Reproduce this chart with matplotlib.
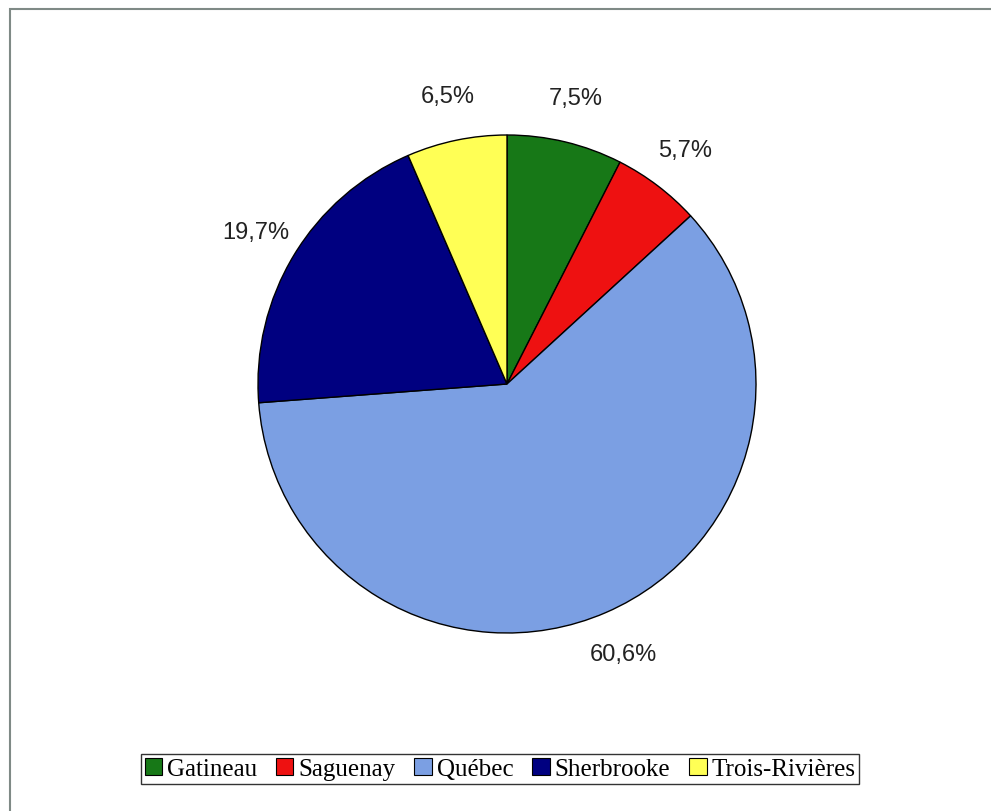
import numpy as np
import matplotlib
matplotlib.use("Agg")
import matplotlib.pyplot as plt
from matplotlib.patches import Rectangle, Patch

categories = ["Gatineau", "Saguenay", "Québec", "Sherbrooke", "Trois-Rivières"]
values = [7.5, 5.7, 60.6, 19.7, 6.5]
colors = ["#177817", "#EE1111", "#7B9FE3", "#000080", "#FFFF55"]
pct_labels = ["7,5%", "5,7%", "60,6%", "19,7%", "6,5%"]

W, H = 991, 812
fig = plt.figure(figsize=(W / 100, H / 100), dpi=100)
fig.patch.set_facecolor("white")

cx, cy, r = 507, 385, 249
ax = fig.add_axes([(cx - r) / W, (H - cy - r) / H, 2 * r / W, 2 * r / H])
wedges, _ = ax.pie(values, colors=colors, startangle=90, counterclock=False,
                   radius=1.0,
                   wedgeprops=dict(edgecolor="black", linewidth=1.0))
ax.set_xlim(-1, 1)
ax.set_ylim(-1, 1)
ax.set_aspect("equal")
ax.axis("off")

for w, lab in zip(wedges, pct_labels):
    theta = np.deg2rad((w.theta1 + w.theta2) / 2)
    d = 1.18
    ax.text(d * np.cos(theta), d * np.sin(theta), lab, ha="center", va="center",
            fontsize=17, family="Liberation Sans", color="#222222",
            clip_on=False)

handles = [Patch(facecolor=c, edgecolor="black", linewidth=0.8) for c in colors]
leg = fig.legend(handles, categories, loc="center", bbox_to_anchor=(500 / W, 1 - 770 / H),
                 ncol=5, frameon=True, fancybox=False, edgecolor="black",
                 prop={"family": "Liberation Serif", "size": 18},
                 handlelength=0.7, handleheight=0.7, handletextpad=0.2,
                 columnspacing=0.75, borderpad=0.15, borderaxespad=0)
leg.get_frame().set_linewidth(1.0)

fig.add_artist(Rectangle((10 / W, -0.1), 1.2, (H - 10) / H + 0.1,
                         transform=fig.transFigure, fill=False,
                         edgecolor="#7f8a86", linewidth=1.5))

fig.savefig("out.png", dpi=100)
